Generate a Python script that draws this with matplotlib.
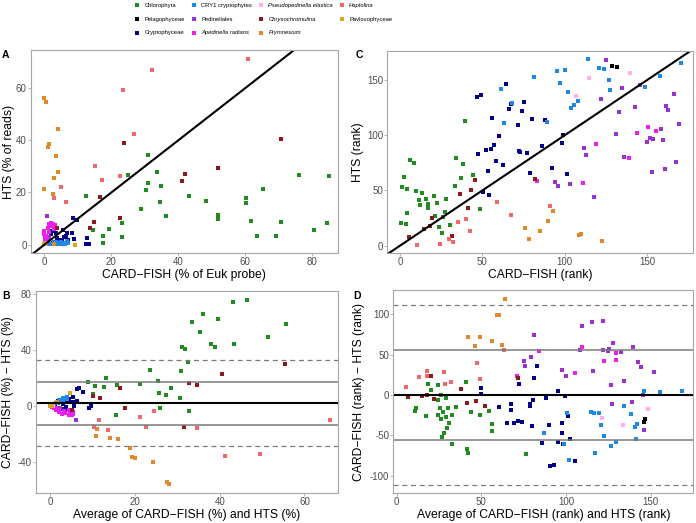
import numpy as np
import matplotlib
matplotlib.use("Agg")
import matplotlib.pyplot as plt

plt.rcParams['font.family'] = ['Liberation Sans', 'DejaVu Sans']
plt.rcParams['axes.unicode_minus'] = False

# ---- panel A data: (CARD-FISH %, HTS %) ----
chloro_pct = [(85.1, 26.3), (80.5, 5.8), (84.4, 8.3), (76.1, 26.6), (70.7, 8.5), (69.1, 3.2),
              (65.4, 21.3), (63.6, 3.5), (61.8, 9.1), (60.1, 17.8), (60.1, 15.9), (52.0, 11.4),
              (52.0, 10.0), (48.4, 16.6), (43.3, 18.6), (36.3, 10.9), (34.9, 22.3), (34.4, 16.5),
              (33.6, 27.9), (31.0, 23.5), (31.0, 34.4), (30.3, 21.1), (28.9, 13.5), (25.1, 26.7),
              (23.2, 3.1), (23.2, 8.2), (19.4, 6.0), (17.6, 3.5), (17.5, 0.6), (14.4, 5.6), (12.5, 18.8)]
pelago_pct = [(0.3, 0.1), (0.6, 0.2)]
crypto_pct = [(8.4, 10.1), (9.6, 9.5), (12.8, 2.6), (12.5, 0.3), (13.4, 0.3), (8.3, 4.6), (6.3, 3.3),
              (7.0, 1.7), (8.8, 2.2), (2.4, 5.2), (1.9, 4.0), (3.7, 2.6), (3.4, 4.3), (4.5, 1.8),
              (4.4, 1.3), (5.2, 1.8), (3.5, 0.3), (2.5, 0.6), (1.2, 1.3), (5.8, 2.8), (6.8, 4.3), (5.5, 5.6)]
cry1_pct = [(1.5, 0.1), (2.5, 0.4), (3.2, 0.2), (4.0, 0.5), (4.8, 0.3), (5.5, 0.6), (6.2, 0.4),
            (7.0, 0.8), (3.6, 1.0), (5.0, 1.2), (2.8, 0.9), (6.6, 1.5), (4.3, 0.1), (5.9, 0.2)]
pedin_pct = [(0.9, 11.1), (0.3, 2.0), (0.6, 1.0), (1.5, 3.0), (0.2, 0.5), (2.5, 7.4)]
apedin_pct = [(0.0, 5.4), (0.0, 4.1), (0.1, 2.8), (0.2, 1.5), (0.5, 3.5), (1.3, 7.8), (2.0, 8.3),
              (2.6, 8.1), (2.2, 7.0), (1.0, 6.2), (1.5, 5.0), (0.8, 2.2), (2.8, 6.0), (3.2, 7.5), (0.3, 0.8)]
pseudo_pct = [(0.2, 0.3), (0.5, 0.8), (0.1, 0.1)]
chryso_pct = [(70.6, 40.4), (23.9, 39.1), (16.7, 18.4), (52.0, 29.3), (42.1, 27.1), (41.0, 24.3),
              (22.7, 10.1), (14.7, 8.8), (13.7, 6.5), (3.8, 6.5)]
prym_pct = [(0.0, 56.2), (0.6, 54.7), (4.1, 44.4), (1.5, 38.6), (1.2, 37.5), (3.6, 34.0), (4.1, 27.8),
            (2.9, 25.5), (0.0, 21.5), (2.6, 19.4), (3.0, 0.2)]
hapto_pct = [(60.8, 71.1), (32.2, 66.8), (23.4, 59.1), (26.7, 42.6), (22.7, 26.3), (17.3, 24.9),
             (15.0, 30.3), (5.0, 22.1), (6.5, 16.5), (2.8, 18.0)]
pavlo_pct = [(9.2, 0.0), (0.0, 0.1), (0.6, 0.5)]

# ---- panel C data: (CARD-FISH rank, HTS rank) ----
chloro_rank = [(0.4, 20.8), (3.4, 19.9), (1.2, 52.8), (4.3, 51.6), (2.4, 62.5), (6.3, 77.9), (8.5, 74.9),
               (9.5, 49.8), (13.6, 48.0), (11.3, 41.0), (12.1, 36.8), (15.8, 42.6), (16.8, 37.4),
               (17.2, 33.8), (20.4, 44.7), (22.3, 38.6), (27.9, 42.3), (27.5, 30.8), (26.1, 26.0),
               (4.3, 29.9), (23.5, 16.9), (25.3, 11.8), (30.6, 18.7), (21.3, 27.2), (33.6, 54.3),
               (34.0, 79.1), (38.5, 74.0), (37.2, 61.6), (44.5, 64.0), (39.3, 112.9), (48.4, 32.9)]
pelago_rank = [(129.0, 163.0), (132.0, 161.9)]
crypto_rank = [(46.6, 134.6), (49.4, 136.7), (64.4, 146.7), (56.1, 115.9), (66.2, 124.1), (67.4, 128.6),
               (75.1, 129.8), (74.1, 121.6), (71.5, 109.0), (60.3, 99.0), (47.4, 82.7), (52.4, 86.6),
               (55.5, 87.8), (57.3, 91.2), (58.3, 76.7), (62.3, 73.0), (53.2, 67.6), (72.3, 85.7),
               (73.1, 84.8), (77.1, 83.9), (79.1, 65.8), (86.0, 90.0), (80.2, 115.0), (88.1, 113.8),
               (50.2, 48.9), (54.3, 45.6), (99.0, 100.2), (98.2, 92.7), (92.1, 70.6), (101.2, 64.9)]
cry1_rank = [(61.1, 141.9), (68.2, 128.9), (63.2, 110.8), (81.2, 152.7), (114.0, 169.0), (95.1, 157.9),
             (100.0, 158.8), (97.2, 147.6), (102.0, 138.8), (104.0, 125.0), (105.9, 127.7), (108.1, 130.7),
             (89.1, 112.0), (120.9, 160.6), (123.9, 159.7), (126.7, 150.0), (127.7, 141.0),
             (148.8, 143.7), (157.7, 153.9), (170.9, 165.7)]
pedin_rank = [(124.9, 167.8), (135.0, 143.1), (121.9, 132.8), (133.0, 120.7), (142.7, 125.6),
              (146.0, 145.5), (166.6, 137.6), (161.7, 126.8), (162.8, 122.5), (169.6, 109.9),
              (131.0, 100.8), (158.7, 105.9), (151.8, 97.8), (153.8, 96.6), (149.8, 93.6), (159.7, 95.7),
              (113.0, 81.8), (111.9, 88.7), (135.8, 80.6), (167.6, 75.8), (160.7, 69.7), (152.8, 66.7),
              (94.1, 58.0), (96.2, 53.7), (103.0, 55.8), (118.0, 43.8)]
apedin_rank = [(150.8, 107.8), (143.7, 101.7), (155.7, 103.8), (118.8, 92.1), (139.0, 79.7),
               (110.9, 56.7), (83.0, 58.9)]
pseudo_rank = [(115.0, 151.8), (107.1, 135.8), (139.7, 156.7)]
chryso_rank = [(5.5, 7.8), (14.6, 15.4), (18.4, 17.8), (19.6, 24.8), (36.4, 46.8), (41.5, 34.4),
               (43.3, 50.4), (45.3, 59.5), (31.6, 8.5), (82.2, 60.7)]
prym_rank = [(76.1, 16.0), (78.1, 6.0), (85.0, 13.0), (90.1, 22.6), (93.1, 31.7), (108.9, 9.7),
             (110.1, 10.6), (122.9, 4.5)]
hapto_rank = [(10.5, 0.9), (24.3, 1.8), (29.6, 6.0), (32.4, 3.0), (35.4, 21.7), (40.1, 24.1),
              (42.3, 13.6), (59.1, 39.8), (67.2, 28.1), (91.1, 35.6)]
pavlo_rank = []

b_mean = 1.9
b_solid = [17.4, -13.6]
b_dashed = [32.9, -28.6]
d_mean = 0.0
d_solid = [56.0, -56.0]
d_dashed = [112.0, -112.0]

names = ["Chlorophyta", "Pelagophyceae", "Cryptophyceae", "CRY1 cryptophytes", "Pedinellales",
         "Apedinella radians", "Pseudopedinella elastica", "Chrysochromulina", "Prymnesium",
         "Haptolina", "Pavlovophyceae"]
italic_names = ["Apedinella radians", "Pseudopedinella elastica", "Chrysochromulina",
                "Prymnesium", "Haptolina"]
colors = ["#228B22", "#000000", "#00008B", "#1E88E5", "#9A32CD", "#EE1EEE", "#FFAEEF",
          "#8B1A1A", "#E0892B", "#F0686A", "#DAA520"]

pct_sets = [chloro_pct, pelago_pct, crypto_pct, cry1_pct, pedin_pct, apedin_pct, pseudo_pct,
            chryso_pct, prym_pct, hapto_pct, pavlo_pct]
rank_sets = [chloro_rank, pelago_rank, crypto_rank, cry1_rank, pedin_rank, apedin_rank, pseudo_rank,
             chryso_rank, prym_rank, hapto_rank, pavlo_rank]

GRAY_TXT = "#4D4D4D"
GRAY_BOX = "#A6A6A6"
PT = 11


def as_xy(pts):
    a = np.array(pts, dtype=float).reshape(-1, 2)
    return a[:, 0], a[:, 1]


def bland_altman(pts):
    x, y = as_xy(pts)
    return (x + y) / 2, x - y


def style(ax, xlim, ylim, xticks, yticks, xlabel, ylabel, xlab_y, ylab_x):
    ax.set_xlim(xlim)
    ax.set_ylim(ylim)
    ax.set_xticks(xticks)
    ax.set_yticks(yticks)
    for s in ax.spines.values():
        s.set_color(GRAY_BOX)
        s.set_linewidth(0.8)
    ax.tick_params(labelsize=7, labelcolor=GRAY_TXT, color=GRAY_BOX, length=2.0, width=0.6, pad=1.0)
    ax.set_xlabel(xlabel, fontsize=8.7)
    ax.set_ylabel(ylabel, fontsize=8.7)
    ax.xaxis.set_label_coords(0.5, xlab_y)
    ax.yaxis.set_label_coords(ylab_x, 0.5)
    ax.xaxis.label.set_va("center")
    ax.yaxis.label.set_va("center")


fig = plt.figure(figsize=(6.96, 5.23), dpi=100)
axA = fig.add_axes([0.0441, 0.5157, 0.4415, 0.3887])
axC = fig.add_axes([0.5565, 0.5157, 0.4397, 0.3874])
axB = fig.add_axes([0.0513, 0.0568, 0.4343, 0.3874])
axD = fig.add_axes([0.5651, 0.0568, 0.4310, 0.3887])

handles = []
for name, col, p, r in zip(names, colors, pct_sets, rank_sets):
    x, y = as_xy(p)
    h = axA.scatter(x, y, s=PT, marker="s", color=col, linewidths=0, label=name)
    handles.append(h)
    mx, dy = bland_altman(p)
    axB.scatter(mx, dy, s=PT, marker="s", color=col, linewidths=0)
    if len(r):
        x, y = as_xy(r)
        axC.scatter(x, y, s=PT, marker="s", color=col, linewidths=0)
        mx, dy = bland_altman(r)
        axD.scatter(mx, dy, s=PT, marker="s", color=col, linewidths=0)

axA.axline((0, 0), slope=1, color="black", lw=1.5)
axC.axline((0, 0), slope=1, color="black", lw=1.5)

for ax, m, sol, das in [(axB, b_mean, b_solid, b_dashed), (axD, d_mean, d_solid, d_dashed)]:
    ax.axhline(m, color="black", lw=1.5)
    for v in sol:
        ax.axhline(v, color="#7A7A7A", lw=1.1)
    for v in das:
        ax.axhline(v, color="#7A7A7A", lw=0.9, ls=(0, (4, 3)))

style(axA, (-4.1, 87.7), (-3.3, 74.6), [0, 20, 40, 60, 80], [0, 20, 40, 60],
      "CARD\u2212FISH (% of Euk probe)", "HTS (% of reads)", -0.107, -0.070)
style(axB, (-3.4, 67.9), (-62.5, 82.5), [0, 20, 40, 60], [-40, 0, 40, 80],
      "Average of CARD\u2212FISH (%) and HTS (%)", "CARD\u2212FISH (%) \u2212 HTS (%)", -0.107, -0.093)
style(axC, (-7.7, 178.1), (-6.9, 176.6), [0, 50, 100, 150], [0, 50, 100, 150],
      "CARD\u2212FISH (rank)", "HTS (rank)", -0.107, -0.097)
style(axD, (-2.0, 175.2), (-121.8, 130.1), [0, 50, 100, 150], [-100, -50, 0, 50, 100],
      "Average of CARD\u2212FISH (rank) and HTS (rank)", "CARD\u2212FISH (rank) \u2212 HTS (rank)",
      -0.107, -0.114)

for lab, (px, py) in zip("ABCD", [(2.0, 50), (2.0, 291), (356, 50), (353, 291)]):
    fig.text(px / 696, 1 - py / 523, lab, fontsize=7.5, fontweight="bold", ha="left", va="top")

leg = fig.legend(handles=handles, labels=names, ncol=4, loc="upper left",
                 bbox_to_anchor=(131 / 696, 1.0), frameon=False, fontsize=4.2,
                 handlelength=1.2, handletextpad=0.6, columnspacing=1.0, labelspacing=1.45,
                 borderaxespad=0.2, borderpad=0.3)
for t in leg.get_texts():
    if t.get_text() in italic_names:
        t.set_fontstyle("italic")

fig.savefig("out.png", dpi=100)
